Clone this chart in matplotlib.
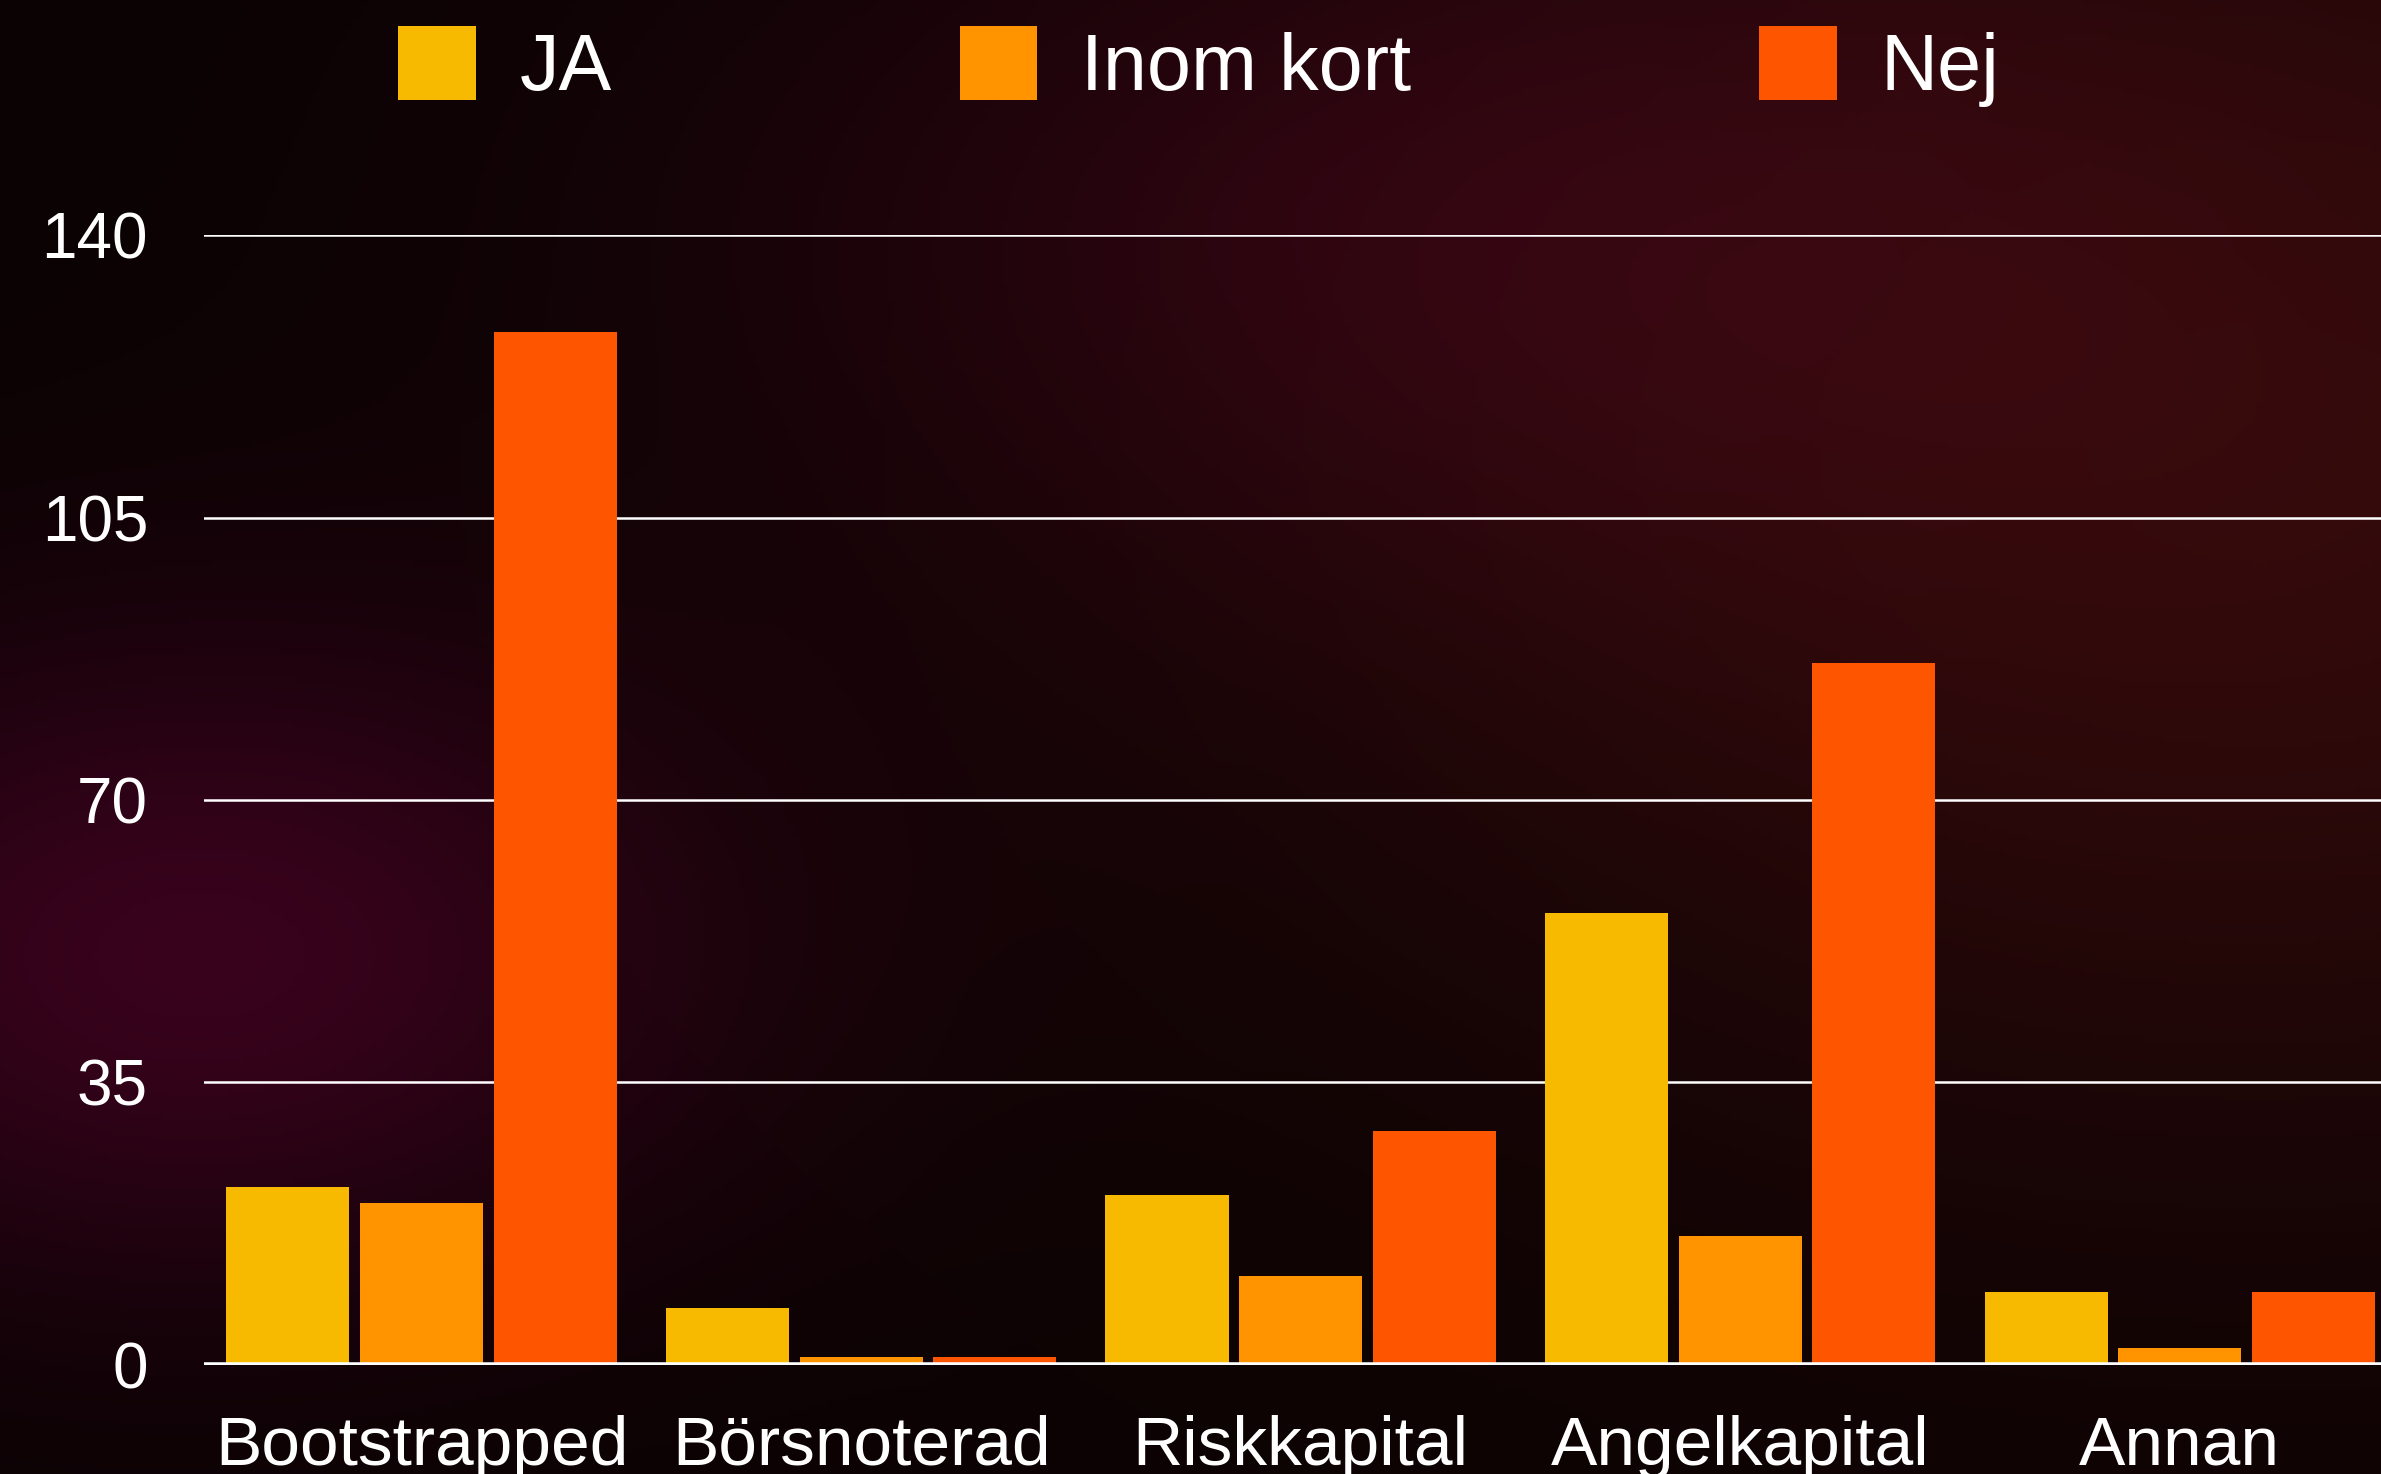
import matplotlib.pyplot as plt
import numpy as np

categories = ['Bootstrapped', 'Börsnoterad', 'Riskkapital', 'Angelkapital', 'Annan']
series = ['JA', 'Inom kort', 'Nej']
ja = [22, 7, 21, 56, 9]
inom_kort = [20, 1, 11, 16, 2]
nej = [128, 1, 29, 87, 9]
yticks = [0, 35, 70, 105, 140]

colors = ['#F8BA00', '#FF9300', '#FE5600']
plt.rcParams['font.family'] = ['Liberation Sans', 'DejaVu Sans']

fig = plt.figure(figsize=(23.81, 14.74), dpi=100)

# dark bokeh-ish background, just a smooth gradient
bg = fig.add_axes([0, 0, 1, 1])
h, w = 300, 480
yy, xx = np.mgrid[0:1:h*1j, 0:1:w*1j]
base = np.array([0.04, 0.01, 0.012])
img = np.ones((h, w, 3)) * base
purple = np.exp(-(((xx - 0.08) / 0.22) ** 2 + ((yy - 0.65) / 0.22) ** 2))
red = np.exp(-(((xx - 0.95) / 0.45) ** 2 + ((yy - 0.3) / 0.5) ** 2))
mid = np.exp(-(((xx - 0.6) / 0.3) ** 2 + ((yy - 0.15) / 0.25) ** 2))
img += purple[..., None] * np.array([0.18, 0.0, 0.1])
img += red[..., None] * np.array([0.16, 0.03, 0.03])
img += mid[..., None] * np.array([0.08, 0.0, 0.04])
bg.imshow(np.clip(img, 0, 1), aspect='auto', extent=[0, 1, 0, 1], origin='upper')
bg.axis('off')

ax = fig.add_axes([0.0855, 0.0742, 0.9145, 0.7662])
ax.patch.set_alpha(0)
x = np.arange(len(categories))
width = 0.28
step = 0.304
for i, (name, vals) in enumerate(zip(series, [ja, inom_kort, nej])):
    ax.bar(x + (i - 1) * step, vals, width, color=colors[i], label=name, zorder=3)

for t in yticks[1:]:
    ax.axhline(t, color='white', lw=1.8, zorder=1)
ax.axhline(0, color='white', lw=4, zorder=4)

ax.set_xlim(-0.496, 4.458)
ax.set_ylim(0, 140)
ax.set_yticks(yticks)
ax.set_xticks(x)
ax.set_xticklabels(categories, fontsize=50, color='white')
ax.tick_params(axis='y', length=0, pad=40, labelsize=46, labelcolor='white')
ax.tick_params(axis='x', length=0, pad=36)
for s in ax.spines.values():
    s.set_visible(False)

fig.legend(loc='center', bbox_to_anchor=(0.5035, 0.9547), ncol=3, frameon=False,
           fontsize=57, labelcolor='white', handlelength=0.98, handleheight=1.05,
           handletextpad=0.55, columnspacing=4.4, borderaxespad=0)

fig.savefig('out.png', dpi=100)
